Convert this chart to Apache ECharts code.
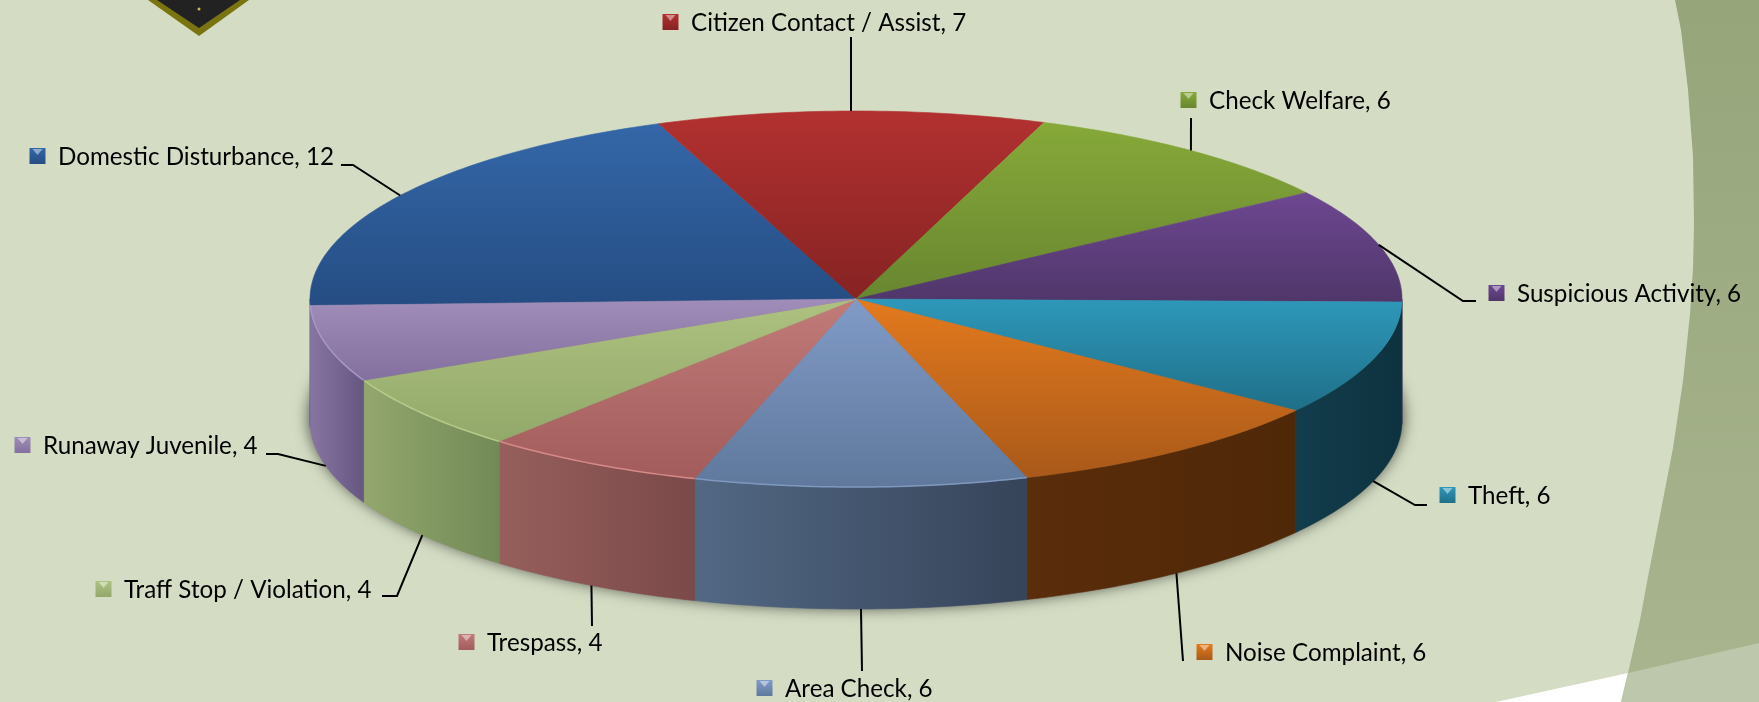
<!DOCTYPE html>
<html>
  <head>
    <meta charset="utf-8">
    <title>Calls for service</title>
    <style>
      html,body{margin:0;padding:0;background:#d4ddc4;}
      #chart1{width:1759px;height:702px;}
    </style>
    <script src="https://cdn.jsdelivr.net/npm/echarts@6/dist/echarts.min.js"></script>
  </head>
  <body>
    <div id="chart1"></div>
  </body>
  <script>
    // data, clockwise starting from the left side of the pie
    var categories = ['Domestic Disturbance', 'Citizen Contact / Assist', 'Check Welfare', 'Suspicious Activity', 'Theft', 'Noise Complaint', 'Area Check', 'Trespass', 'Traff Stop / Violation', 'Runaway Juvenile'];
    var counts = [12, 7, 6, 6, 6, 6, 6, 4, 4, 4];

    // pie geometry
    var cx = 856, cy = 299, rx = 546, ry = 188, depth = 122;
    var firstAngle = 268;
    var total = counts.reduce(function(a, b){ return a + b; }, 0);

    // colours per slice: top light, top dark, side left, side right, rim
    var topLight = ['#3467a8', '#b23130', '#86a939', '#6e4791', '#2e98ba', '#e37a1d', '#809bc7', '#c17b79', '#aec180', '#a08db9'];
    var topDark = ['#254d83', '#862323', '#688630', '#4f3669', '#1f6f88', '#a9591a', '#5f789c', '#a15c5b', '#92a96b', '#84709e'];
    var sideLeft = ['#254d83', '#862323', '#5f7a29', '#4d3467', '#123d4c', '#5a2d0b', '#526884', '#965f5c', '#93a76d', '#8875a2'];
    var sideRight = ['#254d83', '#862323', '#5f7a29', '#4d3467', '#0e323f', '#4f2808', '#364459', '#7b4949', '#728a57', '#655781'];
    var rimColor = [null, null, null, null, null, null, '#7f98bd', '#d58a88', '#b6ca88', '#a897c4'];

    // label placement: text left, text middle, end of leader, elbow of leader (if any)
    var labelX = [58, 691, 1209, 1517, 1468, 1225, 785, 487, 124, 43];
    var labelY = [157, 23, 101, 294, 496, 653, 689, 643, 590, 446];
    var leaderEnd = [[341, 165], [851, 37], [1191, 118], [1476, 301], [1427, 505], [1183, 661], [862, 671], [592, 626], [382, 596], [266, 454]];
    var leaderElbow = [[353, 165], null, null, [1463, 301], [1415, 505], null, null, null, [397, 596], [278, 454]];

    function angleAt(sum) {
      return echarts.number.linearMap(sum, [0, total], [firstAngle, firstAngle + 360]);
    }
    function rimPoint(deg, drop) {
      var a = deg * Math.PI / 180;
      return [cx + rx * Math.sin(a), cy - ry * Math.cos(a) + (drop || 0)];
    }
    function arcPoints(from, to, drop) {
      var pts = [];
      var n = Math.max(2, Math.ceil(Math.abs(to - from)));
      for (var i = 0; i <= n; i++) {
        pts.push(rimPoint(from + (to - from) * i / n, drop));
      }
      return pts;
    }
    function clipFront(from, to) {
      // only the part of the rim between 90 and 270 degrees faces the viewer
      var out = [];
      [0, 360].forEach(function(shift){
        var a = Math.max(from, 90 + shift), b = Math.min(to, 270 + shift);
        if (b > a) out.push([a, b]);
      });
      return out;
    }

    function renderSlice(params, api) {
      var i = api.value(0);
      var sumBefore = 0;
      for (var k = 0; k < i; k++) sumBefore += counts[k];
      var from = angleAt(sumBefore), to = angleAt(sumBefore + api.value(1));
      var mid = (from + to) / 2;
      var kids = [];

      clipFront(from, to).forEach(function(r){
        var pts = arcPoints(r[0], r[1], 0).concat(arcPoints(r[1], r[0], depth));
        var sideFill = new echarts.graphic.LinearGradient(0, 0, 1, 0, [
          {offset: 0, color: sideLeft[i]}, {offset: 1, color: sideRight[i]}
        ]);
        kids.push({
          type: 'polygon', shape: {points: pts},
          style: {fill: sideFill, stroke: sideFill, lineWidth: 0.6}
        });
      });

      var topFill = new echarts.graphic.LinearGradient(0, 0, 0, 1, [
        {offset: 0, color: topLight[i]}, {offset: 1, color: topDark[i]}
      ]);
      kids.push({
        type: 'polygon', shape: {points: [[cx, cy]].concat(arcPoints(from, to, 0))},
        style: {fill: topFill, stroke: topFill, lineWidth: 0.6}
      });

      if (rimColor[i]) {
        clipFront(from, to).forEach(function(r){
          kids.push({
            type: 'polyline', shape: {points: arcPoints(r[0], r[1], 0)},
            style: {fill: null, stroke: rimColor[i], lineWidth: 1.5}
          });
        });
      }

      // leader line
      var m = ((mid % 360) + 360) % 360;
      var anchor = rimPoint(m, (m > 90 && m < 270) ? depth : 0);
      var line = leaderElbow[i] ? [anchor, leaderElbow[i], leaderEnd[i]] : [anchor, leaderEnd[i]];
      kids.push({
        type: 'polyline', shape: {points: line},
        style: {fill: null, stroke: '#000', lineWidth: 2}
      });

      // little bevelled legend key
      var kx = labelX[i] - 28.5, ky = labelY[i] - 9;
      kids.push({
        type: 'rect', shape: {x: kx, y: ky, width: 16, height: 16},
        style: {
          fill: new echarts.graphic.LinearGradient(0, 0, 0, 1, [
            {offset: 0, color: topLight[i]}, {offset: 1, color: topDark[i]}
          ])
        }
      });
      kids.push({
        type: 'polygon', shape: {points: [[kx + 3, ky + 1], [kx + 13, ky + 1], [kx + 8, ky + 7]]},
        style: {fill: 'rgba(255,255,255,0.45)'}
      });

      kids.push({
        type: 'text',
        style: {
          x: labelX[i], y: labelY[i],
          text: categories[i] + ', ' + api.value(1),
          fill: '#000',
          font: '24.2px Lato',
          textAlign: 'left', textVerticalAlign: 'middle'
        }
      });

      return {type: 'group', children: kids};
    }

    var seriesData = categories.map(function(name, i){ return [i, counts[i], name]; });

    // slide artwork behind the chart
    var bandEdge = [[1675, 0], [1681, 30], [1688, 90], [1693, 157], [1694, 224], [1693, 269], [1690, 314], [1683, 381], [1673, 448], [1660, 515], [1647, 582], [1640, 620], [1628, 673], [1621, 702]];

    var myChart = echarts.init(document.getElementById('chart1'), null, {renderer: 'canvas'});
    var option = {
      animation: false,
      backgroundColor: '#d4ddc4',
      graphic: [
        {
          type: 'polygon', silent: true, z: 0,
          shape: {points: bandEdge.concat([[1759, 702], [1759, 0]])},
          style: {
            fill: new echarts.graphic.LinearGradient(0, 0, 0, 1, [
              {offset: 0, color: '#97a57b'}, {offset: 1, color: '#a8b58f'}
            ])
          }
        },
        {
          type: 'polygon', silent: true, z: 0,
          shape: {points: [[1496, 702], [1628, 673], [1621, 702]]},
          style: {fill: '#fff'}
        },
        {
          type: 'polygon', silent: true, z: 0,
          shape: {points: [[1628, 673], [1759, 643], [1759, 702], [1621, 702]]},
          style: {fill: '#bcc7ab'}
        },
        {
          type: 'polygon', silent: true, z: 0,
          shape: {points: [[148, 0], [249, 0], [199, 36]]},
          style: {fill: '#7a7410'}
        },
        {
          type: 'polygon', silent: true, z: 0,
          shape: {points: [[157, 0], [240, 0], [199, 28]]},
          style: {fill: '#222222'}
        },
        {
          type: 'circle', silent: true, z: 0,
          shape: {cx: 199, cy: 9, r: 1.5},
          style: {fill: '#c9b84a'}
        },
        {
          // soft shadow under the pie
          type: 'ellipse', silent: true, z: 0,
          shape: {cx: cx, cy: cy + depth - 4, rx: rx, ry: ry + 2},
          style: {fill: '#6b7060', shadowBlur: 16, shadowColor: 'rgba(0,0,0,0.75)'}
        }
      ],
      series: [
        {
          type: 'custom',
          coordinateSystem: 'none',
          renderItem: renderSlice,
          data: seriesData,
          silent: true,
          clip: false
        }
      ]
    };
    myChart.setOption(option);
  </script>
</html>
